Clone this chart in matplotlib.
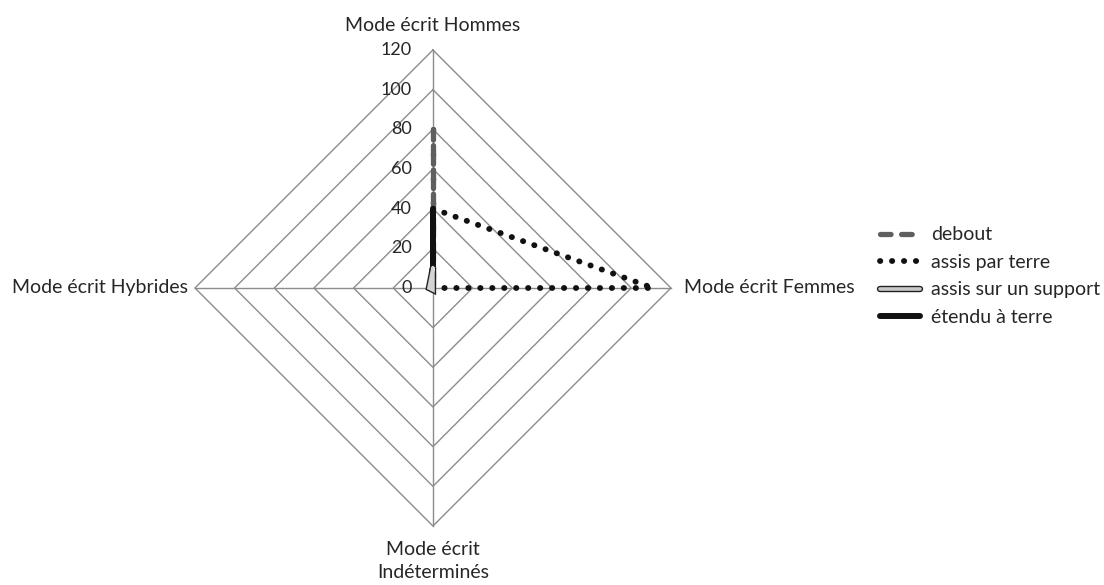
import numpy as np
import matplotlib
matplotlib.use('Agg')
import matplotlib.pyplot as plt
import matplotlib.patheffects as pe
from matplotlib.lines import Line2D

plt.rcParams['font.family'] = ['Lato', 'DejaVu Sans']

# axes of the radar, clockwise from the top
categories = ['Mode écrit Hommes', 'Mode écrit Femmes',
              'Mode écrit\nIndéterminés', 'Mode écrit Hybrides']
debout = [80, 0, 0, 0]
assis_terre = [40, 111, 0, 0]
assis_support = [10, 0, 1, 2]
etendu = [40, 0, 0, 0]
ticks = [0, 20, 40, 60, 80, 100, 120]
series_names = ['debout', 'assis par terre', 'assis sur un support', 'étendu à terre']

rmax = 120
angles = np.deg2rad([90, 0, -90, 180])


def to_xy(vals):
    v = np.array(vals + vals[:1], dtype=float)
    a = np.concatenate([angles, angles[:1]])
    return v * np.cos(a), v * np.sin(a)


fig = plt.figure(figsize=(11.04, 5.85), dpi=100)
ax = fig.add_axes([0.1586, 0.0669, 0.4671, 0.8816])
ax.set_xlim(-130, 130)
ax.set_ylim(-130, 130)
ax.set_aspect('equal')
ax.axis('off')

grid_col = '#8c8c8c'
txt_col = '#262626'
for t in ticks[1:]:
    gx, gy = to_xy([t] * 4)
    ax.plot(gx, gy, color=grid_col, lw=1.0, zorder=1)
for a in angles:
    ax.plot([0, rmax * np.cos(a)], [0, rmax * np.sin(a)], color=grid_col, lw=1.0, zorder=1)

for t in ticks:
    ax.text(-10.5, t, str(t), ha='right', va='center', fontsize=13, color=txt_col, zorder=2)

# category labels
ax.text(0, 128, categories[0], ha='center', va='bottom', fontsize=14, color=txt_col)
ax.text(126.5, 0, categories[1], ha='left', va='center', fontsize=14, color=txt_col)
ax.text(0, -127.5, categories[2], ha='center', va='top', fontsize=14, color=txt_col,
        linespacing=1.45)
ax.text(-123.5, 0, categories[3], ha='right', va='center', fontsize=14, color=txt_col)

# series
dash_style = (2.0, 2.6)
dot_style = (0.05, 2.0)
support_fx = [pe.Stroke(linewidth=4.6, foreground='#222222'), pe.Normal()]
x, y = to_xy(debout)
ax.plot(x, y, color='#5f5f5f', lw=3.8, dashes=dash_style, dash_capstyle='round', zorder=3)
x, y = to_xy(assis_terre)
ax.plot(x, y, color='#111111', lw=4.2, dashes=dot_style, dash_capstyle='round', zorder=4)
x, y = to_xy(etendu)
ax.plot(x, y, color='#111111', lw=4.3, solid_capstyle='butt', zorder=5)
x, y = to_xy(assis_support)
ax.plot(x, y, color='#d4d4d4', lw=2.6, solid_capstyle='round', solid_joinstyle='miter', zorder=6,
        path_effects=support_fx)

handles = [
    Line2D([], [], color='#5f5f5f', lw=3.8, dashes=(2.0, 2.0), dash_capstyle='round'),
    Line2D([], [], color='#111111', lw=4.2, dashes=dot_style, dash_capstyle='round'),
    Line2D([], [], color='#c8c8c8', lw=2.6, solid_capstyle='round', path_effects=support_fx),
    Line2D([], [], color='#111111', lw=4.3, solid_capstyle='round'),
]
fig.legend(handles, series_names, loc='center left', bbox_to_anchor=(0.797, 0.528),
           frameon=False, fontsize=14, handlelength=2.05, handletextpad=0.6,
           labelspacing=0.54, borderpad=0, borderaxespad=0, labelcolor=txt_col)

fig.savefig('out.png', dpi=100)
